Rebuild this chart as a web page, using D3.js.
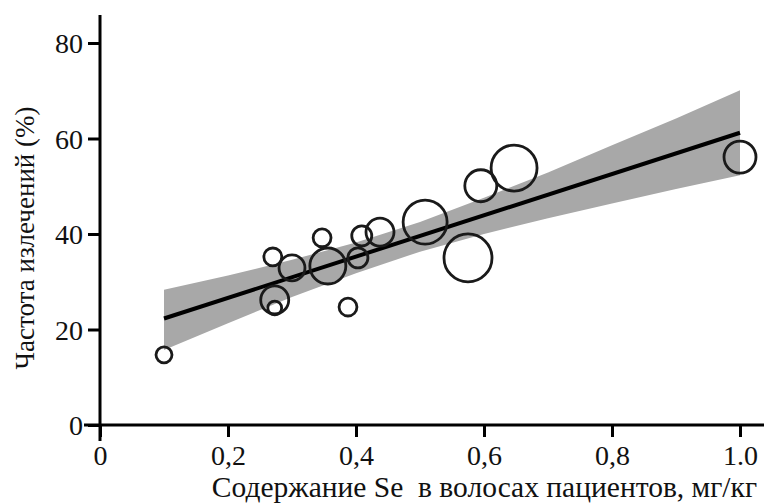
<!DOCTYPE html>
<html>
<head>
<meta charset="utf-8">
<script src="https://cdn.jsdelivr.net/npm/d3@7/dist/d3.min.js"></script>
<style>
  html, body { margin: 0; padding: 0; background: #fff; }
  svg { display: block; }
  .serif { font-family: "Liberation Serif", Tinos, "Noto Serif", "DejaVu Serif", FreeSerif, "Nimbus Roman", "Times New Roman", Times, serif; }
</style>
</head>
<body>
<svg id="chart" width="768" height="503"></svg>
<script>
// Se content in hair (mg/kg) vs cure rate (%), one bubble per study group
const seContent = [0.10, 0.270, 0.273, 0.273, 0.300, 0.347, 0.356, 0.3875, 0.403, 0.409, 0.4375, 0.508, 0.575, 0.595, 0.647, 1.0];
const cureRate  = [14.7, 35.2, 26.2, 24.5, 32.9, 39.2, 33.3, 24.7, 35.0, 39.6, 40.4, 42.5, 35.0, 50.1, 53.8, 56.1];
const groupWeight = [16, 20, 49, 12, 42, 20, 81, 20, 25, 25, 49, 121, 144, 64, 132, 64];

// regression line and its confidence band
const fitX = [0.1, 1.0];
const fitY = [22.3, 61.2];
const bandX     = [0.1, 0.2, 0.3, 0.4, 0.5, 0.6, 0.7, 0.8, 0.9, 1.0];
const bandLower = [15.7, 21.3, 26.8, 31.8, 36.3, 40.0, 43.3, 46.4, 49.4, 52.3];
const bandUpper = [28.3, 31.3, 34.6, 38.2, 42.5, 47.6, 52.9, 58.6, 64.2, 70.1];

// axis ticks
const xTicks = [0, 0.2, 0.4, 0.6, 0.8, 1.0];
const xTickLabels = ["0", "0,2", "0,4", "0,6", "0,8", "1.0"];
const yTicks = [0, 20, 40, 60, 80];

const xTitle = "Содержание Se  в волосах пациентов, мг/кг";
const yTitle = "Частота излечений (%)";

const svg = d3.select("#chart");

const x = d3.scaleLinear().domain([0, 1]).range([100, 740]);
const y = d3.scaleLinear().domain([0, 80]).range([425, 43]);
const r = d3.scaleSqrt().domain([0, 144]).range([0, 24]);

const x0 = x(0), y0 = y(0);

// confidence band
const band = bandX.map((v, i) => ({ x: v, lo: bandLower[i], hi: bandUpper[i] }));
svg.append("path")
  .datum(band)
  .attr("fill", "#a8a8a8")
  .attr("d", d3.area().x(d => x(d.x)).y0(d => y(d.lo)).y1(d => y(d.hi)));

// regression line
svg.append("path")
  .datum(fitX.map((v, i) => [v, fitY[i]]))
  .attr("fill", "none")
  .attr("stroke", "#000")
  .attr("stroke-width", 4)
  .attr("d", d3.line().x(d => x(d[0])).y(d => y(d[1])));

// bubbles
const pts = seContent.map((v, i) => ({ x: v, y: cureRate[i], w: groupWeight[i] }));
svg.append("g")
  .selectAll("circle")
  .data(pts)
  .join("circle")
  .attr("cx", d => x(d.x))
  .attr("cy", d => y(d.y))
  .attr("r", d => r(d.w))
  .attr("fill", "none")
  .attr("stroke", "#1a1a1a")
  .attr("stroke-width", 2.8);

// axes
const yAxis = svg.append("g")
  .attr("transform", `translate(${x0},0)`)
  .call(d3.axisLeft(y).tickValues(yTicks).tickSize(12).tickPadding(5).tickFormat(d3.format("d")));
yAxis.attr("font-family", null).attr("font-size", null);
yAxis.select(".domain").remove();
yAxis.selectAll(".tick line").attr("stroke", "#000").attr("stroke-width", 3);
yAxis.selectAll(".tick text")
  .attr("class", "serif").style("font-size", "28px")
  .attr("fill", "#111").attr("dy", "0.34em");

const xAxis = svg.append("g")
  .attr("transform", `translate(0,${y0})`)
  .call(d3.axisBottom(x).tickValues(xTicks).tickSize(12).tickPadding(8)
    .tickFormat((d, i) => xTickLabels[i]));
xAxis.attr("font-family", null).attr("font-size", null);
xAxis.select(".domain").remove();
xAxis.selectAll(".tick line").attr("stroke", "#000").attr("stroke-width", 3);
xAxis.selectAll(".tick text")
  .attr("class", "serif").style("font-size", "28px")
  .attr("fill", "#111");

// axis lines
svg.append("line")
  .attr("x1", x0).attr("x2", x0).attr("y1", 15).attr("y2", y0 + 16)
  .attr("stroke", "#000").attr("stroke-width", 3);
svg.append("line")
  .attr("x1", x0 - 16).attr("x2", 764).attr("y1", y0).attr("y2", y0)
  .attr("stroke", "#000").attr("stroke-width", 3);

// titles
svg.append("text")
  .attr("class", "serif")
  .attr("x", 757).attr("y", 497)
  .attr("text-anchor", "end")
  .attr("fill", "#111")
  .style("font-size", "29.5px")
  .style("white-space", "pre")
  .text(xTitle);

svg.append("text")
  .attr("class", "serif")
  .attr("transform", `translate(34,238) rotate(-90)`)
  .attr("text-anchor", "middle")
  .attr("fill", "#111")
  .style("font-size", "27px")
  .text(yTitle);
</script>
</body>
</html>
